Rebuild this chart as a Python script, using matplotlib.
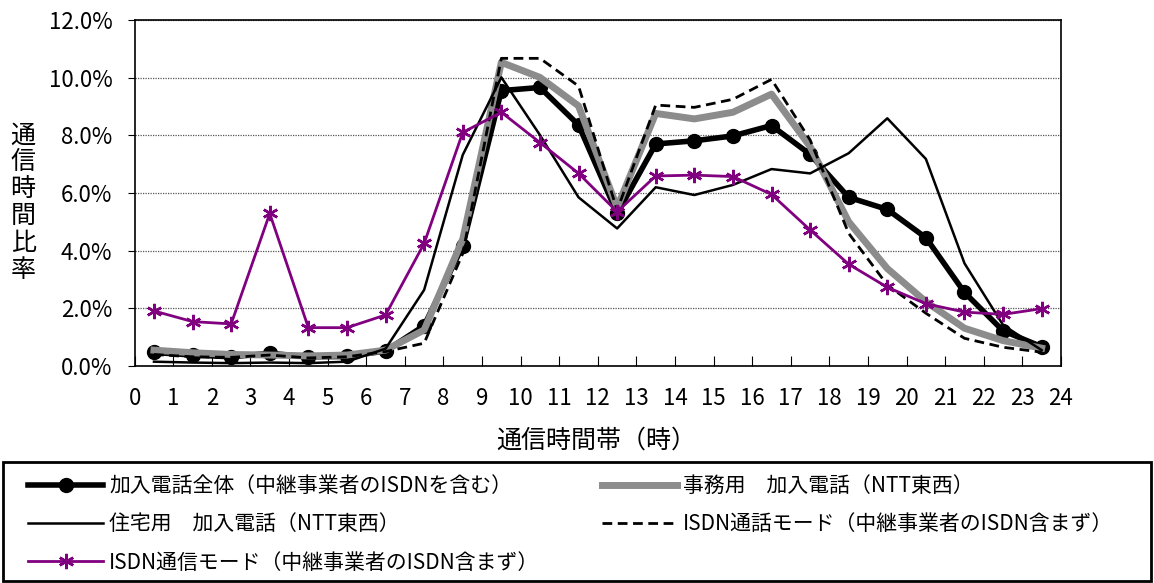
import matplotlib
matplotlib.use("Agg")
import matplotlib.pyplot as plt
from matplotlib.patches import Rectangle
import numpy as np

plt.rcParams['font.family'] = ['Noto Sans CJK JP', 'DejaVu Sans']

# hourly slots (center of each hour)
hours = [h + 0.5 for h in range(24)]

# values in %
total_all = [0.47, 0.38, 0.32, 0.44, 0.32, 0.33, 0.52, 1.40, 4.17, 9.55, 9.66, 8.36,
             5.29, 7.70, 7.81, 7.98, 8.34, 7.34, 5.85, 5.43, 4.45, 2.55, 1.22, 0.67]
office = [0.55, 0.46, 0.40, 0.38, 0.35, 0.38, 0.55, 1.25, 4.40, 10.53, 10.01, 9.02,
          5.50, 8.76, 8.57, 8.80, 9.43, 7.61, 5.00, 3.38, 2.23, 1.31, 0.88, 0.62]
home = [0.15, 0.12, 0.10, 0.12, 0.10, 0.15, 0.60, 2.64, 7.32, 10.01, 8.01, 5.85,
        4.77, 6.20, 5.93, 6.28, 6.83, 6.68, 7.38, 8.59, 7.18, 3.56, 1.42, 0.55]
isdn_call = [0.40, 0.32, 0.30, 0.38, 0.28, 0.32, 0.50, 0.79, 3.90, 10.67, 10.67, 9.71,
             5.40, 9.05, 8.97, 9.25, 9.94, 7.84, 4.60, 2.81, 1.83, 0.96, 0.65, 0.48]
isdn_data = [1.91, 1.54, 1.46, 5.29, 1.33, 1.33, 1.77, 4.25, 8.10, 8.80, 7.75, 6.68,
             5.35, 6.59, 6.62, 6.57, 5.95, 4.72, 3.53, 2.73, 2.16, 1.87, 1.79, 1.99]

labels = ["加入電話全体（中継事業者のISDNを含む）",
          "事務用　加入電話（NTT東西）",
          "住宅用　加入電話（NTT東西）",
          "ISDN通話モード（中継事業者のISDN含まず）",
          "ISDN通信モード（中継事業者のISDN含まず）"]

fig = plt.figure(figsize=(11.54, 5.83), dpi=100)
ax = fig.add_axes([0.1167, 0.3722, 0.8027, 0.5935])

l1, = ax.plot(hours, total_all, color="black", lw=4, marker="o", ms=10, label=labels[0])
l2, = ax.plot(hours, office, color="#8c8c8c", lw=5, label=labels[1])
l3, = ax.plot(hours, home, color="black", lw=1.8, label=labels[2])
l4, = ax.plot(hours, isdn_call, color="black", lw=2, ls=(0, (3.5, 2)), label=labels[3])
l5, = ax.plot(hours, isdn_data, color="#800080", lw=2, marker=(6, 2, 0), ms=11,
              mew=1.8, label=labels[4])

ax.set_xlim(0, 24)
ax.set_ylim(0, 12)
ax.set_xticks(range(25))
ax.set_yticks(np.arange(0, 12.1, 2))
ax.set_yticklabels([f"{v:.1f}%" for v in np.arange(0, 12.1, 2)])
ax.tick_params(axis="x", direction="in", length=7, labelsize=16, pad=15)
ax.tick_params(axis="y", direction="out", length=5, labelsize=16, pad=11)
ax.yaxis.grid(True, ls=(0, (1, 1)), color="#555555", lw=0.9)
for s in ax.spines.values():
    s.set_linewidth(1.2)

fig.text(0.517, 0.245, "通信時間帯（時）", fontsize=18, ha="center", va="center")
fig.text(0.02, 0.652, "\n".join("通信時間比率"), fontsize=18, ha="center", va="center",
         linespacing=1.05)

# legend box drawn separately so the padding matches
fig.patches.append(Rectangle((3 / 1154, 2 / 583), 1148 / 1154, 119 / 583,
                             transform=fig.transFigure, fill=False,
                             edgecolor="black", lw=2))
fig.legend(handles=[l1, l3, l5, l2, l4], ncol=2, loc="upper left",
           bbox_to_anchor=(28 / 1154, 0, 1085 / 1154, (583 - 475) / 583), mode="expand",
           fontsize=15, frameon=False,
           handlelength=3.6, handletextpad=0.3, borderaxespad=0, labelspacing=0.78,
           borderpad=0)

fig.savefig("out.png", dpi=100)
